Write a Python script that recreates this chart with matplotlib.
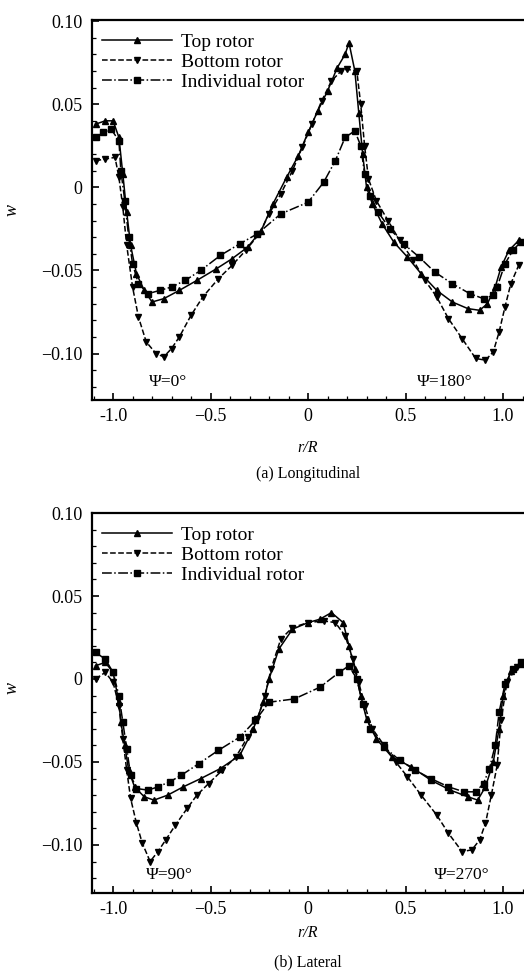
import matplotlib
matplotlib.use("Agg")
import matplotlib.pyplot as plt
from matplotlib.ticker import MultipleLocator

plt.rcParams['font.family'] = ['Liberation Serif', 'DejaVu Serif']

# (a) Longitudinal
lon_top_x = [-1.09, -1.04, -1.00, -0.97, -0.95, -0.93, -0.91, -0.88, -0.84, -0.80,
             -0.74, -0.66, -0.57, -0.47, -0.39, -0.31, -0.24, -0.18, -0.11, -0.05,
             0.00, 0.05, 0.10, 0.15, 0.19, 0.21, 0.24, 0.26, 0.28, 0.30,
             0.33, 0.38, 0.44, 0.51, 0.58, 0.66, 0.74, 0.82, 0.88, 0.92,
             0.96, 0.99, 1.03, 1.08]
lon_top_w = [0.038, 0.040, 0.040, 0.030, 0.008, -0.015, -0.035, -0.052, -0.062, -0.069,
             -0.067, -0.062, -0.056, -0.049, -0.043, -0.036, -0.026, -0.010, 0.006, 0.019,
             0.033, 0.046, 0.058, 0.072, 0.080, 0.087, 0.070, 0.045, 0.020, 0.000,
             -0.010, -0.022, -0.033, -0.042, -0.052, -0.062, -0.069, -0.073, -0.074, -0.070,
             -0.060, -0.048, -0.038, -0.032]

lon_bot_x = [-1.09, -1.04, -0.99, -0.97, -0.95, -0.93, -0.90, -0.87, -0.83, -0.78,
             -0.74, -0.70, -0.66, -0.60, -0.54, -0.46, -0.39, -0.32, -0.25, -0.20,
             -0.14, -0.08, -0.03, 0.02, 0.07, 0.12, 0.17, 0.20, 0.25, 0.27,
             0.29, 0.31, 0.35, 0.41, 0.47, 0.54, 0.60, 0.66, 0.72, 0.79,
             0.86, 0.91, 0.95, 0.98, 1.01, 1.04, 1.08]
lon_bot_w = [0.016, 0.017, 0.018, 0.006, -0.012, -0.035, -0.060, -0.078, -0.093, -0.100,
             -0.102, -0.097, -0.090, -0.077, -0.066, -0.055, -0.047, -0.038, -0.028, -0.016,
             -0.004, 0.010, 0.024, 0.038, 0.052, 0.064, 0.070, 0.071, 0.070, 0.050,
             0.025, 0.005, -0.008, -0.020, -0.032, -0.044, -0.056, -0.066, -0.079, -0.091,
             -0.103, -0.104, -0.099, -0.087, -0.072, -0.058, -0.047]

lon_ind_x = [-1.09, -1.05, -1.01, -0.97, -0.96, -0.94, -0.92, -0.90, -0.87, -0.82,
             -0.76, -0.70, -0.63, -0.55, -0.45, -0.35, -0.26, -0.14, 0.00, 0.08,
             0.14, 0.19, 0.24, 0.27, 0.29, 0.32, 0.36, 0.42, 0.49, 0.57,
             0.65, 0.74, 0.83, 0.90, 0.95, 0.97, 1.01, 1.05, 1.09]
lon_ind_w = [0.030, 0.033, 0.035, 0.028, 0.010, -0.008, -0.030, -0.046, -0.058, -0.064,
             -0.062, -0.060, -0.056, -0.050, -0.041, -0.034, -0.028, -0.016, -0.009, 0.003,
             0.016, 0.030, 0.034, 0.025, 0.008, -0.005, -0.015, -0.025, -0.034, -0.042,
             -0.051, -0.058, -0.064, -0.067, -0.065, -0.060, -0.046, -0.038, -0.033]

# (b) Lateral
lat_top_x = [-1.09, -1.04, -1.00, -0.97, -0.96, -0.94, -0.92, -0.89, -0.84, -0.79,
             -0.72, -0.64, -0.55, -0.45, -0.35, -0.28, -0.23, -0.20, -0.15, -0.08,
             0.00, 0.06, 0.12, 0.18, 0.21, 0.24, 0.27, 0.30, 0.35, 0.43,
             0.53, 0.63, 0.73, 0.82, 0.87, 0.91, 0.95, 0.98, 1.00, 1.04,
             1.09]
lat_top_w = [0.008, 0.010, 0.004, -0.014, -0.026, -0.040, -0.055, -0.065, -0.071, -0.073,
             -0.070, -0.065, -0.060, -0.054, -0.046, -0.030, -0.014, 0.000, 0.018, 0.030,
             0.034, 0.036, 0.040, 0.034, 0.020, 0.006, -0.010, -0.024, -0.036, -0.047,
             -0.053, -0.061, -0.067, -0.071, -0.073, -0.065, -0.050, -0.030, -0.010, 0.005,
             0.009]

lat_bot_x = [-1.09, -1.04, -1.00, -0.97, -0.95, -0.93, -0.91, -0.88, -0.85, -0.81,
             -0.77, -0.73, -0.68, -0.62, -0.57, -0.51, -0.44, -0.37, -0.31, -0.26,
             -0.22, -0.19, -0.14, -0.08, 0.00, 0.08, 0.14, 0.19, 0.23, 0.26,
             0.29, 0.33, 0.39, 0.45, 0.51, 0.58, 0.66, 0.72, 0.79, 0.84,
             0.88, 0.91, 0.94, 0.97, 0.99, 1.02, 1.07]
lat_bot_w = [0.000, 0.004, -0.002, -0.016, -0.036, -0.055, -0.072, -0.087, -0.099, -0.110,
             -0.104, -0.097, -0.088, -0.078, -0.070, -0.063, -0.055, -0.047, -0.035, -0.024,
             -0.010, 0.006, 0.024, 0.031, 0.034, 0.035, 0.034, 0.026, 0.012, -0.002,
             -0.016, -0.030, -0.040, -0.050, -0.059, -0.070, -0.082, -0.093, -0.104, -0.103,
             -0.097, -0.087, -0.070, -0.052, -0.025, -0.002, 0.007]

lat_ind_x = [-1.09, -1.04, -1.00, -0.97, -0.95, -0.93, -0.91, -0.88, -0.82, -0.77,
             -0.71, -0.65, -0.56, -0.46, -0.35, -0.27, -0.20, -0.07, 0.06, 0.16,
             0.21, 0.25, 0.28, 0.32, 0.39, 0.47, 0.55, 0.63, 0.72, 0.80,
             0.86, 0.90, 0.93, 0.96, 0.98, 1.01, 1.05, 1.09]
lat_ind_w = [0.016, 0.012, 0.004, -0.010, -0.026, -0.042, -0.058, -0.066, -0.067, -0.065,
             -0.062, -0.058, -0.051, -0.043, -0.035, -0.025, -0.014, -0.012, -0.005, 0.004,
             0.008, 0.000, -0.015, -0.030, -0.041, -0.049, -0.055, -0.060, -0.065, -0.068,
             -0.068, -0.063, -0.054, -0.040, -0.020, -0.003, 0.006, 0.010]

labels = ['Top rotor', 'Bottom rotor', 'Individual rotor']
xticks = [-1.0, -0.5, 0, 0.5, 1.0]
xticklabels = ['-1.0', '\u22120.5', '0', '0.5', '1.0']
yticks = [0.10, 0.05, 0, -0.05, -0.10]
yticklabels = ['0.10', '0.05', '0', '\u22120.05', '\u22120.10']

fig = plt.figure(figsize=(5.24, 9.71), dpi=100)


def panel(rect, ylim, series, psi, ylab_y):
    ax = fig.add_axes(rect)
    styles = [('-', '^'), ('--', 'v'), ('-.', 's')]
    for (x, w), (ls, mk), lab in zip(series, styles, labels):
        ax.plot(x, w, color='black', linestyle=ls, linewidth=1.1, marker=mk,
                markersize=4.8, label=lab)
    ax.set_xlim(-1.108, 1.121)
    ax.set_ylim(*ylim)
    ax.set_xticks(xticks)
    ax.set_xticklabels(xticklabels)
    ax.set_yticks(yticks)
    ax.set_yticklabels(yticklabels)
    ax.xaxis.set_minor_locator(MultipleLocator(0.1))
    ax.yaxis.set_minor_locator(MultipleLocator(0.01))
    ax.tick_params(which='major', direction='in', length=5, width=1.2, labelsize=13)
    ax.tick_params(axis='x', which='major', pad=6)
    ax.tick_params(axis='y', which='major', pad=7)
    ax.tick_params(which='minor', direction='in', length=3, width=0.9)
    for s in ax.spines.values():
        s.set_linewidth(1.6)
    ax.set_ylabel('w', fontstyle='italic', fontsize=13, rotation=90)
    ax.yaxis.set_label_coords(-0.165, ylab_y)
    ax.legend(loc='upper left', bbox_to_anchor=(0.0, 0.99), frameon=False,
              fontsize=14, handlelength=3.6, handletextpad=0.5, numpoints=1,
              labelspacing=0.12, borderaxespad=0.2, borderpad=0.3)
    for (px, py, txt) in psi:
        ax.text(px, py, txt, fontsize=12.5, ha='center', va='center')
    return ax


panel([0.1756, 0.588, 0.8294, 0.3913], (-0.128, 0.1006),
      [(lon_top_x, lon_top_w), (lon_bot_x, lon_bot_w), (lon_ind_x, lon_ind_w)],
      [(-0.72, -0.117, '\u03a8=0\u00b0'), (0.70, -0.117, '\u03a8=180\u00b0')], 0.5)
panel([0.1756, 0.0803, 0.8294, 0.3913], (-0.129, 0.100),
      [(lat_top_x, lat_top_w), (lat_bot_x, lat_bot_w), (lat_ind_x, lat_ind_w)],
      [(-0.71, -0.118, '\u03a8=90\u00b0'), (0.79, -0.118, '\u03a8=270\u00b0')], 0.54)

cx = 308 / 524
fig.text(cx, 1 - 448 / 971, 'r/R', fontstyle='italic', fontsize=11.5, ha='center', va='center')
fig.text(cx, 1 - 474 / 971, '(a) Longitudinal', fontsize=11.5, ha='center', va='center')
fig.text(cx, 1 - 933 / 971, 'r/R', fontstyle='italic', fontsize=11.5, ha='center', va='center')
fig.text(cx, 1 - 962 / 971, '(b) Lateral', fontsize=11.5, ha='center', va='center')

fig.savefig('out.png', dpi=100)
